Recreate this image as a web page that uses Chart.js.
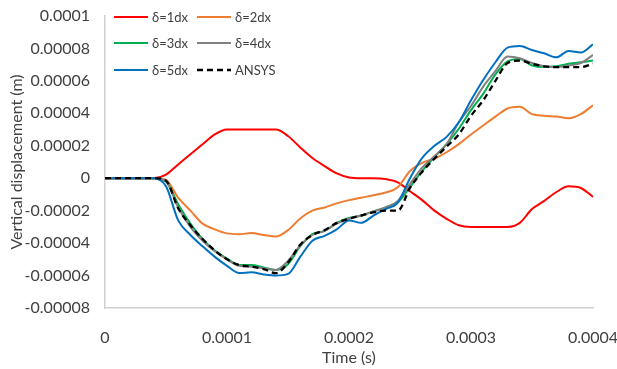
<!DOCTYPE html>
<html>
<head>
<meta charset="utf-8">
<script src="https://cdn.jsdelivr.net/npm/chart.js@4.4.1/dist/chart.umd.min.js"></script>
<style>
  html, body { margin: 0; padding: 0; background: #fff; }
  #wrap { width: 617px; height: 369px; }
</style>
</head>
<body>
<div id="wrap"><canvas id="c" width="617" height="369"></canvas></div>
<script>
// Time samples (s)
const time = [
  0, 0.00001, 0.00002, 0.00003, 0.00004, 0.00005, 0.00006, 0.00007, 0.00008, 0.00009,
  0.0001, 0.00011, 0.00012, 0.00013, 0.00014, 0.00015, 0.00016, 0.00017, 0.00018, 0.00019,
  0.0002, 0.00021, 0.00022, 0.00023, 0.00024, 0.00025, 0.00026, 0.00027, 0.00028, 0.00029,
  0.0003, 0.00031, 0.00032, 0.00033, 0.00034, 0.00035, 0.00036, 0.00037, 0.00038, 0.00039,
  0.0004
];

// Vertical displacement, in units of 1e-5 m
const UNIT = 1e-5;
const delta1dx = [
  0, 0, 0, 0, 0, 0.22, 0.85, 1.48, 2.1, 2.7,
  3.0, 3.0, 3.0, 3.0, 3.0, 2.6, 1.9, 1.25, 0.75, 0.3,
  0.05, 0, 0, -0.05, -0.25, -0.8, -1.35, -2.0, -2.5, -2.9,
  -3.0, -3.0, -3.0, -3.0, -2.75, -1.9, -1.4, -0.85, -0.5, -0.6,
  -1.15
];
const delta2dx = [
  0, 0, 0, 0, 0, -0.1, -1.2, -2.0, -2.8, -3.15,
  -3.4, -3.45, -3.38, -3.5, -3.6, -3.2, -2.48, -2.0, -1.8, -1.55,
  -1.35, -1.2, -1.05, -0.88, -0.55, 0.45, 0.95, 1.2, 1.6, 2.1,
  2.7, 3.25, 3.8, 4.3, 4.4, 3.95, 3.85, 3.8, 3.7, 3.95,
  4.5
];
const delta3dx = [
  0, 0, 0, 0, 0, -0.2, -1.6, -2.8, -3.75, -4.45,
  -4.95, -5.35, -5.35, -5.5, -5.65, -5.3, -4.2, -3.45, -3.25, -2.75,
  -2.45, -2.3, -2.05, -1.8, -1.5, -0.55, 0.45, 1.3, 2.1, 3.05,
  4.2, 5.2, 6.4, 7.2, 7.35, 6.95, 6.85, 6.9, 7.05, 7.15,
  7.25
];
const delta4dx = [
  0, 0, 0, 0, 0, -0.2, -1.8, -3.0, -3.85, -4.5,
  -5.0, -5.4, -5.45, -5.55, -5.65, -5.1, -4.15, -3.5, -3.25, -2.8,
  -2.5, -2.3, -2.05, -1.8, -1.4, -0.35, 0.65, 1.35, 2.1, 3.45,
  4.45, 5.65, 6.6, 7.5, 7.4, 7.1, 6.9, 6.85, 6.95, 7.1,
  7.6
];
const delta5dx = [
  0, 0, 0, 0, 0, -0.5, -2.6, -3.5, -4.2, -4.85,
  -5.4, -5.85, -5.8, -5.93, -6.0, -5.9, -4.85, -3.85, -3.55, -3.15,
  -2.6, -2.75, -2.3, -1.9, -1.5, 0.0, 1.25, 2.0, 2.55, 3.45,
  4.8, 6.05, 7.15, 8.05, 8.15, 7.9, 7.7, 7.45, 7.85, 7.75,
  8.25
];
const ansys = [
  0, 0, 0, 0, 0, -0.15, -1.85, -2.9, -3.75, -4.45,
  -5.0, -5.35, -5.45, -5.6, -5.85, -5.2, -4.1, -3.5, -3.2, -2.75,
  -2.5, -2.3, -2.1, -2.0, -2.0, -0.6, 0.4, 1.2, 1.95, 2.7,
  3.85, 4.8, 6.0, 7.1, 7.25, 7.05, 6.9, 6.85, 6.85, 6.85,
  7.05
];

const seriesNames = ['δ=1dx', 'δ=2dx', 'δ=3dx', 'δ=4dx', 'δ=5dx', 'ANSYS'];
const seriesValues = [delta1dx, delta2dx, delta3dx, delta4dx, delta5dx, ansys];

const xTickLabels = ['0', '0.0001', '0.0002', '0.0003', '0.0004'];
const yTickLabels = ['-0.00008', '-0.00006', '-0.00004', '-0.00002', '0',
                     '0.00002', '0.00004', '0.00006', '0.00008', '0.0001'];

const colors = ['#ff0000', '#ed7d31', '#00b050', '#808080', '#0070c0', '#000000'];
const FONT = 'Lato, "Open Sans", sans-serif';
const TEXT = '#404040';

const datasets = seriesNames.map((name, i) => ({
  label: name,
  data: time.map((t, j) => ({ x: t, y: seriesValues[i][j] * UNIT })),
  borderColor: colors[i],
  backgroundColor: colors[i],
  borderWidth: i === 5 ? 2.3 : 2,
  borderDash: i === 5 ? [6, 4] : [],
  pointRadius: 0,
  cubicInterpolationMode: 'monotone',
  fill: false,
  // later series sit on top of earlier ones
  order: seriesNames.length - i
}));

// Two-column legend drawn inside the plot area
const gridLegend = {
  id: 'gridLegend',
  afterDraw(chart) {
    const ctx = chart.ctx;
    const a = chart.chartArea;
    const colX = [a.left + 9, a.left + 92];
    const rowY = [a.top + 1, a.top + 27, a.top + 54];
    ctx.save();
    ctx.font = '13px ' + FONT;
    ctx.textBaseline = 'middle';
    ctx.fillStyle = TEXT;
    chart.data.datasets.forEach((ds, i) => {
      const x = colX[i % 2];
      const y = rowY[Math.floor(i / 2)];
      ctx.beginPath();
      ctx.strokeStyle = ds.borderColor;
      ctx.lineWidth = ds.borderWidth;
      ctx.setLineDash(ds.borderDash || []);
      ctx.moveTo(x, y);
      ctx.lineTo(x + 34, y);
      ctx.stroke();
      ctx.setLineDash([]);
      ctx.fillText(ds.label, x + 38, y + 0.5);
    });
    ctx.restore();
  }
};

new Chart(document.getElementById('c'), {
  type: 'line',
  data: { datasets },
  plugins: [gridLegend],
  options: {
    responsive: false,
    animation: false,
    devicePixelRatio: 1,
    layout: { padding: { left: 0, top: 16, right: 24, bottom: 0 } },
    plugins: {
      legend: { display: false },
      tooltip: { enabled: false }
    },
    scales: {
      x: {
        type: 'linear',
        min: 0,
        max: 0.0004,
        afterFit: s => {
          s.height = 61;
          s.paddingLeft = 0;
          s.paddingRight = 0;
        },
        afterBuildTicks: s => {
          s.ticks = xTickLabels.map(l => ({ value: Number(l) }));
        },
        grid: { display: false, drawTicks: false },
        border: { display: true, color: '#d0d0d0', width: 1.5 },
        ticks: {
          padding: 20,
          color: TEXT,
          font: { family: FONT, size: 16 },
          maxRotation: 0,
          callback: (v, i) => xTickLabels[i]
        },
        title: {
          display: true,
          text: 'Time (s)',
          color: TEXT,
          font: { family: FONT, size: 16 },
          padding: { top: 0, bottom: 2 }
        }
      },
      y: {
        type: 'linear',
        min: -0.00008,
        max: 0.0001,
        afterFit: s => {
          s.width = 105;
          s.paddingTop = 0;
          s.paddingBottom = 0;
        },
        afterBuildTicks: s => {
          s.ticks = yTickLabels.map(l => ({ value: Number(l) }));
        },
        grid: { display: false, drawTicks: false },
        border: { display: true, color: '#d0d0d0', width: 1.5 },
        ticks: {
          padding: 15,
          color: TEXT,
          font: { family: FONT, size: 16 },
          callback: (v, i) => yTickLabels[i]
        },
        title: {
          display: true,
          text: 'Vertical displacement (m)',
          color: TEXT,
          font: { family: FONT, size: 16 },
          padding: { top: 7, bottom: 0 }
        }
      }
    }
  }
});
</script>
</body>
</html>
